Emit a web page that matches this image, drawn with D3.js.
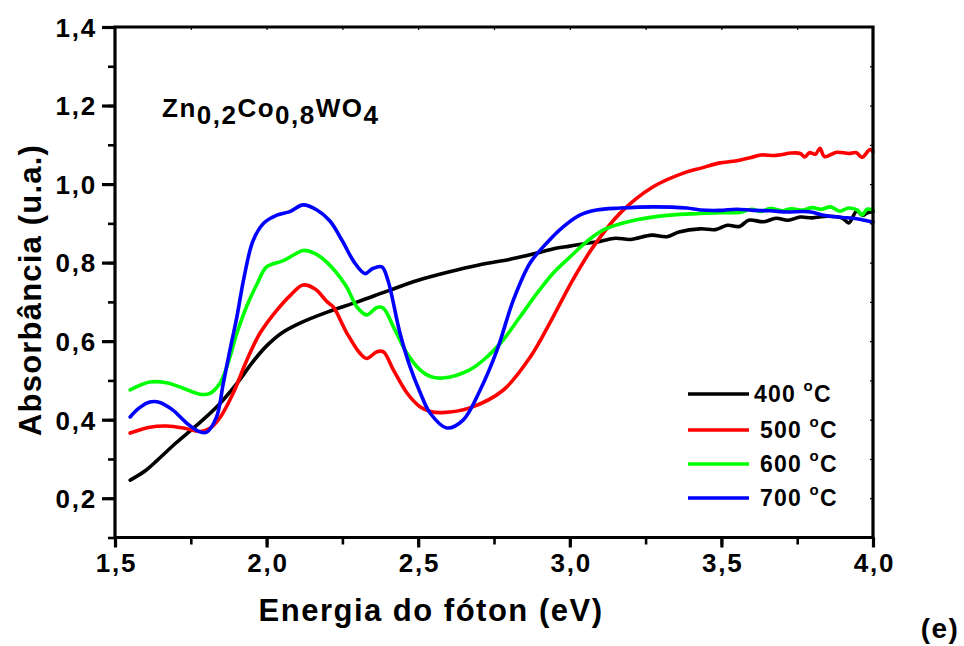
<!DOCTYPE html>
<html>
<head>
<meta charset="utf-8">
<script src="https://cdn.jsdelivr.net/npm/d3@7"></script>
<style>
  html, body { margin: 0; padding: 0; background: #fff; }
  svg { display: block; }
  text { font-family: "Liberation Sans", Arial, sans-serif; font-weight: bold; fill: #000; }
</style>
</head>
<body>
<svg id="chart" width="964" height="646"></svg>
<script>
// Absorbance spectra of Zn0,2Co0,8WO4 calcined at different temperatures
const xTicks = [1.5, 2.0, 2.5, 3.0, 3.5, 4.0];
const yTicks = [0.2, 0.4, 0.6, 0.8, 1.0, 1.2, 1.4];
const seriesNames = ["400", "500", "600", "700"];
const seriesColors = ["#000000", "#ff0000", "#00ff00", "#0000ff"];

// [energy (eV), absorbance (u.a.)]
const abs400 = [
  [1.55,0.246],[1.60,0.270],[1.64,0.297],[1.70,0.340],[1.77,0.386],[1.84,0.436],[1.91,0.500],
  [1.95,0.543],[2.00,0.588],[2.05,0.621],[2.11,0.646],[2.20,0.674],[2.30,0.700],[2.40,0.728],
  [2.50,0.755],[2.60,0.776],[2.70,0.794],[2.80,0.808],[2.84,0.815],[2.90,0.826],[2.95,0.836],
  [3.00,0.842],[3.06,0.850],[3.10,0.854],[3.15,0.862],[3.20,0.859],[3.27,0.870],[3.32,0.866],
  [3.36,0.878],[3.43,0.886],[3.48,0.884],[3.52,0.895],[3.56,0.892],[3.59,0.908],[3.64,0.904],
  [3.68,0.913],[3.72,0.908],[3.76,0.916],[3.80,0.914],[3.85,0.918],[3.90,0.913],[3.92,0.901],
  [3.947,0.932],[3.965,0.920],[3.98,0.926],[4.00,0.930]
];
const abs500 = [
  [1.55,0.366],[1.615,0.381],[1.67,0.384],[1.725,0.379],[1.78,0.370],[1.813,0.378],[1.846,0.405],
  [1.89,0.468],[1.935,0.552],[1.978,0.620],[2.034,0.679],[2.08,0.718],[2.12,0.743],[2.16,0.733],
  [2.20,0.700],[2.22,0.687],[2.265,0.620],[2.308,0.569],[2.33,0.556],[2.364,0.573],[2.385,0.573],
  [2.418,0.527],[2.463,0.468],[2.506,0.433],[2.54,0.421],[2.58,0.418],[2.67,0.430],[2.78,0.475],
  [2.87,0.560],[2.945,0.662],[3.01,0.756],[3.077,0.840],[3.166,0.926],[3.275,0.993],[3.386,1.031],
  [3.43,1.040],[3.495,1.054],[3.54,1.058],[3.60,1.068],[3.63,1.074],[3.68,1.073],[3.73,1.079],
  [3.76,1.078],[3.775,1.069],[3.79,1.080],[3.81,1.076],[3.825,1.091],[3.84,1.070],[3.88,1.081],
  [3.92,1.078],[3.945,1.080],[3.964,1.068],[3.99,1.088],[4.00,1.082]
];
const abs600 = [
  [1.55,0.476],[1.615,0.496],[1.67,0.494],[1.725,0.480],[1.78,0.465],[1.813,0.467],[1.846,0.493],
  [1.869,0.535],[1.902,0.620],[1.935,0.690],[1.97,0.748],[2.00,0.789],[2.055,0.805],[2.09,0.820],
  [2.12,0.831],[2.16,0.823],[2.20,0.800],[2.26,0.743],[2.30,0.685],[2.33,0.667],[2.364,0.686],
  [2.385,0.684],[2.418,0.637],[2.463,0.569],[2.506,0.527],[2.54,0.510],[2.58,0.506],[2.67,0.527],
  [2.727,0.560],[2.78,0.603],[2.836,0.662],[2.891,0.721],[2.945,0.773],[3.00,0.814],[3.055,0.853],
  [3.11,0.883],[3.22,0.909],[3.33,0.921],[3.43,0.925],[3.495,0.927],[3.56,0.928],[3.60,0.936],
  [3.63,0.930],[3.66,0.938],[3.70,0.932],[3.73,0.937],[3.77,0.934],[3.80,0.940],[3.83,0.936],
  [3.86,0.942],[3.89,0.931],[3.92,0.939],[3.95,0.933],[3.964,0.921],[3.98,0.936],[4.00,0.934]
];
const abs700 = [
  [1.55,0.407],[1.58,0.430],[1.615,0.445],[1.648,0.444],[1.69,0.425],[1.737,0.391],[1.78,0.369],
  [1.802,0.368],[1.835,0.407],[1.857,0.492],[1.879,0.577],[1.902,0.662],[1.925,0.760],[1.955,0.855],
  [1.99,0.900],[2.034,0.921],[2.077,0.930],[2.12,0.947],[2.166,0.934],[2.209,0.906],[2.25,0.855],
  [2.29,0.800],[2.325,0.772],[2.35,0.785],[2.38,0.789],[2.40,0.755],[2.44,0.620],[2.473,0.535],
  [2.506,0.470],[2.539,0.417],[2.594,0.379],[2.648,0.399],[2.704,0.475],[2.76,0.577],[2.814,0.705],
  [2.869,0.799],[2.924,0.850],[2.978,0.891],[3.033,0.921],[3.088,0.934],[3.166,0.939],[3.275,0.942],
  [3.386,0.939],[3.43,0.934],[3.495,0.933],[3.55,0.936],[3.604,0.933],[3.66,0.932],[3.716,0.929],
  [3.77,0.930],[3.80,0.928],[3.833,0.921],[3.86,0.918],[3.90,0.915],[3.934,0.913],[3.96,0.910],
  [4.00,0.903]
];
const seriesData = [abs400, abs500, abs600, abs700];

const svg = d3.select("#chart");
const x = d3.scaleLinear().domain([1.5, 4.0]).range([115, 873]);
const y = d3.scaleLinear().domain([0.1, 1.4]).range([537.5, 27]);
const fmt = d => d3.format(".1f")(d).replace(".", ",");

// Curves
const line = d3.line().x(d => x(d[0])).y(d => y(d[1])).curve(d3.curveCatmullRom.alpha(0.5));
const plot = svg.append("g");
seriesData.forEach((s, i) => {
  plot.append("path").datum(s)
    .attr("fill", "none").attr("stroke", seriesColors[i])
    .attr("stroke-width", 3.6).attr("stroke-linejoin", "round").attr("stroke-linecap", "round")
    .attr("d", line);
});

// Axes
const axW = 3.2;
function styleAxis(g, w) {
  g.select(".domain").remove();
  g.selectAll(".tick line").attr("stroke", "#000").attr("stroke-width", w);
}
// minor ticks
const yMinor = d3.range(0.1, 1.41, 0.1).map(v => +v.toFixed(1));
const xMinor = d3.range(1.5, 4.01, 0.25);
svg.append("g").attr("transform", `translate(${x.range()[0]},0)`)
  .call(d3.axisLeft(y).tickValues(yMinor).tickSize(7).tickFormat(""))
  .call(g => styleAxis(g, 2.6));
svg.append("g").attr("transform", `translate(0,${y.range()[0]})`)
  .call(d3.axisBottom(x).tickValues(xMinor).tickSize(7).tickFormat(""))
  .call(g => styleAxis(g, 2.6));
// inward hairline ticks on top and right
svg.append("g").attr("transform", `translate(${x.range()[1]},0)`)
  .call(d3.axisRight(y).tickValues(yMinor).tickSize(-3).tickFormat(""))
  .call(g => styleAxis(g, 1.2));
svg.append("g").attr("transform", `translate(0,${y.range()[1]})`)
  .call(d3.axisTop(x).tickValues(xMinor).tickSize(-3).tickFormat(""))
  .call(g => styleAxis(g, 1.2));
// major ticks with labels
const yAxis = svg.append("g").attr("transform", `translate(${x.range()[0]},0)`)
  .call(d3.axisLeft(y).tickValues(yTicks).tickSize(13).tickPadding(6).tickFormat(fmt))
  .call(g => styleAxis(g, axW));
yAxis.selectAll("text").attr("font-size", 26).attr("letter-spacing", 1.8).attr("dy", "0.36em").attr("x", -18);
const xAxis = svg.append("g").attr("transform", `translate(0,${y.range()[0]})`)
  .call(d3.axisBottom(x).tickValues(xTicks).tickSize(10).tickPadding(6).tickFormat(fmt))
  .call(g => styleAxis(g, axW));
xAxis.selectAll("text").attr("font-size", 26).attr("letter-spacing", 1.8).attr("dx", 0.9);
svg.selectAll(".tick text").attr("font-family", "'Liberation Sans', Arial, sans-serif")
  .attr("font-weight", "bold").attr("fill", "#000");

// frame
const [x0, x1] = x.range(), [y0, y1] = y.range();
svg.append("path").attr("fill", "none").attr("stroke", "#000").attr("stroke-width", axW)
  .attr("stroke-linecap", "square")
  .attr("d", `M${x0},${y1}L${x1},${y1}L${x1},${y0}L${x0},${y0}Z`);

// Axis titles
svg.append("text").attr("x", 431).attr("y", 621).attr("text-anchor", "middle")
  .attr("font-size", 31).attr("letter-spacing", 1.5).text("Energia do fóton (eV)");
svg.append("text").attr("transform", "translate(41,290) rotate(-90)").attr("text-anchor", "middle")
  .attr("font-size", 31).attr("letter-spacing", 1.2).text("Absorbância (u.a.)");

// Composition label
const comp = svg.append("text").attr("x", 162).attr("y", 117).attr("font-size", 26).attr("letter-spacing", 1.5);
comp.append("tspan").text("Zn");
comp.append("tspan").attr("dy", 7).text("0,2");
comp.append("tspan").attr("dy", -7).text("Co");
comp.append("tspan").attr("dy", 7).text("0,8");
comp.append("tspan").attr("dy", -7).text("WO");
comp.append("tspan").attr("dy", 7).text("4");

// Legend
const legY = [394, 430, 464, 498];
const legTextX = [754, 760, 760, 760];
seriesNames.forEach((n, i) => {
  svg.append("line").attr("x1", 688).attr("x2", 749).attr("y1", legY[i]).attr("y2", legY[i])
    .attr("stroke", seriesColors[i]).attr("stroke-width", 3.6);
  const t = svg.append("text").attr("x", legTextX[i]).attr("y", legY[i] + 8)
    .attr("font-size", 23).attr("letter-spacing", 1.2);
  t.append("tspan").text(n + " ");
  t.append("tspan").attr("font-size", 15).attr("dy", -11).text("o");
  t.append("tspan").attr("dy", 11).text("C");
});

// Panel tag
svg.append("text").attr("x", 940).attr("y", 638).attr("text-anchor", "middle")
  .attr("font-size", 28).attr("letter-spacing", 1.5).text("(e)");
</script>
</body>
</html>
